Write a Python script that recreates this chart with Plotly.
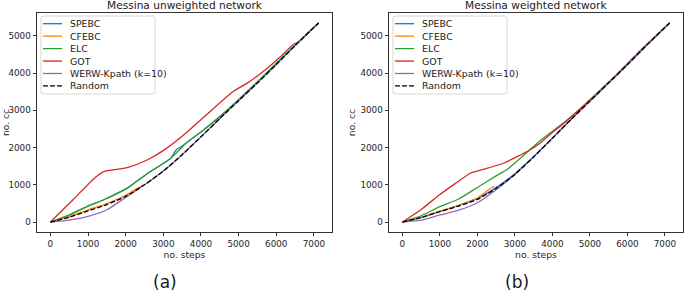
import plotly.graph_objects as go

W, H = 685, 293

series_names = ["SPEBC", "CFEBC", "ELC", "GOT", "WERW-Kpath (k=10)", "Random"]
series_colors = ["#1f77b4", "#ff7f0e", "#2ca02c", "#d62728", "#9467bd", "black"]
titles = ["Messina unweighted network", "Messina weighted network"]
panel_labels = ["(a)", "(b)"]
x_ticks = [0, 1000, 2000, 3000, 4000, 5000, 6000, 7000]
y_ticks = [0, 1000, 2000, 3000, 4000, 5000]

# ---------------- unweighted network ----------------
steps_grid = [0, 500, 1000, 1500, 2000, 2500, 3000, 3500, 4000, 4500, 5000, 5500, 6000, 6500, 7125]

random_u_y = [0, 130, 300, 470, 690, 1000, 1370, 1810, 2290, 2780, 3260, 3735, 4230, 4740, 5348]
werw_u_y = [0, 50, 150, 330, 660, 1000, 1370, 1810, 2290, 2780, 3260, 3735, 4230, 4740, 5348]

cfebc_u_x = [0, 500, 1000, 1500, 2000, 2250, 2460]
cfebc_u_y = [0, 150, 330, 495, 720, 870, 990]

elc_u_x = [0, 500, 1000, 1420, 2040, 2570, 3190, 3640, 4000, 4700, 5500, 6600, 7125]
elc_u_y = [0, 190, 430, 600, 910, 1300, 1710, 2150, 2420, 3010, 3770, 4850, 5348]

spebc_u_x = [0, 500, 1000, 1420, 2040, 2570, 3190, 3350, 3450, 3640, 4000, 4700, 5500, 6600, 7125]
spebc_u_y = [0, 190, 430, 600, 910, 1300, 1710, 1950, 2010, 2150, 2420, 3005, 3765, 4850, 5348]

got_u_x = [0, 600, 1200, 1420, 2040, 2570, 3015, 3636, 4200, 4870, 5220, 5755, 6110, 6460, 6600, 6730, 7125]
got_u_y = [0, 600, 1203, 1353, 1460, 1666, 1933, 2422, 2930, 3519, 3725, 4126, 4439, 4775, 4840, 4973, 5348]

# ---------------- weighted network ----------------
random_w_y = [0, 120, 280, 430, 610, 900, 1280, 1750, 2250, 2760, 3250, 3740, 4230, 4740, 5348]
werw_w_y = [0, 50, 190, 320, 520, 870, 1280, 1750, 2250, 2760, 3250, 3740, 4230, 4740, 5348]
spebc_w_y = [0, 125, 290, 450, 635, 925, 1300, 1760, 2260, 2765, 3250, 3740, 4230, 4740, 5348]

cfebc_w_x = [0, 500, 1000, 1500, 2000, 2200, 2350, 2460]
cfebc_w_y = [0, 125, 295, 445, 645, 790, 910, 960]

elc_w_x = [0, 500, 1000, 1500, 2000, 2500, 2800, 3350, 3640, 4000, 4400, 4800, 5500, 6500, 7125]
elc_w_y = [0, 170, 415, 620, 930, 1240, 1420, 1900, 2160, 2440, 2750, 3100, 3760, 4760, 5348]

got_w_x = [0, 530, 1000, 1420, 1810, 2040, 2690, 3400, 3640, 3970, 4300, 4730, 5500, 6500, 7125]
got_w_y = [0, 360, 740, 1040, 1310, 1380, 1580, 1935, 2094, 2380, 2650, 3030, 3740, 4740, 5348]

panels = [
    [(spebc_u_x, spebc_u_y), (cfebc_u_x, cfebc_u_y), (elc_u_x, elc_u_y),
     (got_u_x, got_u_y), (steps_grid, werw_u_y), (steps_grid, random_u_y)],
    [(steps_grid, spebc_w_y), (cfebc_w_x, cfebc_w_y), (elc_w_x, elc_w_y),
     (got_w_x, got_w_y), (steps_grid, werw_w_y), (steps_grid, random_w_y)],
]

# layout geometry (pixels)
ax_left = [37, 389]
ax_right = [332, 683]
ax_top, ax_bottom = 13, 232

def px(x):
    return x / W

def py(y):
    return 1 - y / H

FONT = "DejaVu Sans"
fig = go.Figure()

for p, data in enumerate(panels):
    xa = "x" if p == 0 else "x2"
    ya = "y" if p == 0 else "y2"
    for i, (xs, ys) in enumerate(data):
        fig.add_trace(go.Scatter(
            x=xs, y=ys, mode="lines", name=series_names[i], showlegend=False,
            line=dict(color=series_colors[i], width=1.3,
                      dash="5px,2px" if series_names[i] == "Random" else "solid",
                      shape="spline", smoothing=0.6),
            xaxis=xa, yaxis=ya))

axis_common = dict(showline=True, mirror=True, linecolor="#333333", linewidth=0.9,
                   ticks="outside", ticklen=3.5, tickwidth=0.8, tickcolor="#333333",
                   showgrid=False, zeroline=False,
                   tickfont=dict(family=FONT, size=8.8, color="#262626"))

for p in range(2):
    sfx = "" if p == 0 else "2"
    fig.layout["xaxis" + sfx] = dict(
        axis_common, domain=[px(ax_left[p]), px(ax_right[p])], range=[-356, 7481],
        tickvals=x_ticks, anchor="y" + sfx,
        title=dict(text="no. steps", font=dict(family=FONT, size=9.2, color="#262626"), standoff=2))
    fig.layout["yaxis" + sfx] = dict(
        axis_common, domain=[py(ax_bottom), py(ax_top)], range=[-267, 5615],
        tickvals=y_ticks, anchor="x" + sfx,
        title=dict(text="no. cc", font=dict(family=FONT, size=9.2, color="#262626"), standoff=3))

annotations = []
shapes = []
for p in range(2):
    cx = (ax_left[p] + ax_right[p]) / 2
    annotations.append(dict(text=titles[p], x=px(cx), y=py(5.5), xref="paper", yref="paper",
                            showarrow=False, xanchor="center", yanchor="middle",
                            font=dict(family=FONT, size=10.6, color="#1a1a1a")))
    lab_x = [165, 517][p]
    annotations.append(dict(text=panel_labels[p], x=px(lab_x), y=py(282), xref="paper", yref="paper",
                            showarrow=False, xanchor="center", yanchor="middle",
                            font=dict(family=FONT, size=17, color="#1a1a1a")))
    # legend box
    bx0, bx1 = ax_left[p] + 4, ax_left[p] + 118
    by0, by1 = 16, 94
    r = 2
    path = (f"M {px(bx0 + r)},{py(by0)} L {px(bx1 - r)},{py(by0)} "
            f"Q {px(bx1)},{py(by0)} {px(bx1)},{py(by0 + r)} "
            f"L {px(bx1)},{py(by1 - r)} Q {px(bx1)},{py(by1)} {px(bx1 - r)},{py(by1)} "
            f"L {px(bx0 + r)},{py(by1)} Q {px(bx0)},{py(by1)} {px(bx0)},{py(by1 - r)} "
            f"L {px(bx0)},{py(by0 + r)} Q {px(bx0)},{py(by0)} {px(bx0 + r)},{py(by0)} Z")
    shapes.append(dict(type="path", path=path, xref="paper", yref="paper",
                       line=dict(color="#cccccc", width=0.8), fillcolor="rgba(255,255,255,0.8)"))
    for i, name in enumerate(series_names):
        yy = 23.7 + i * 12.45
        shapes.append(dict(type="line", xref="paper", yref="paper",
                           x0=px(bx0 + 2), x1=px(bx0 + 21), y0=py(yy), y1=py(yy),
                           line=dict(color=series_colors[i], width=1.3,
                                     dash="5px,2px" if name == "Random" else "solid")))
        annotations.append(dict(text=name, x=px(bx0 + 27), y=py(yy), xref="paper", yref="paper",
                                showarrow=False, xanchor="left", yanchor="middle",
                                font=dict(family=FONT, size=9.4, color="#1a1a1a")))

fig.update_layout(width=W, height=H, margin=dict(l=0, r=0, t=0, b=0),
                  plot_bgcolor="white", paper_bgcolor="white",
                  annotations=annotations, shapes=shapes, showlegend=False)

fig.write_html("out.html", config={"displayModeBar": False},
               post_script="document.body.style.margin='0px';document.body.style.overflow='hidden';")
